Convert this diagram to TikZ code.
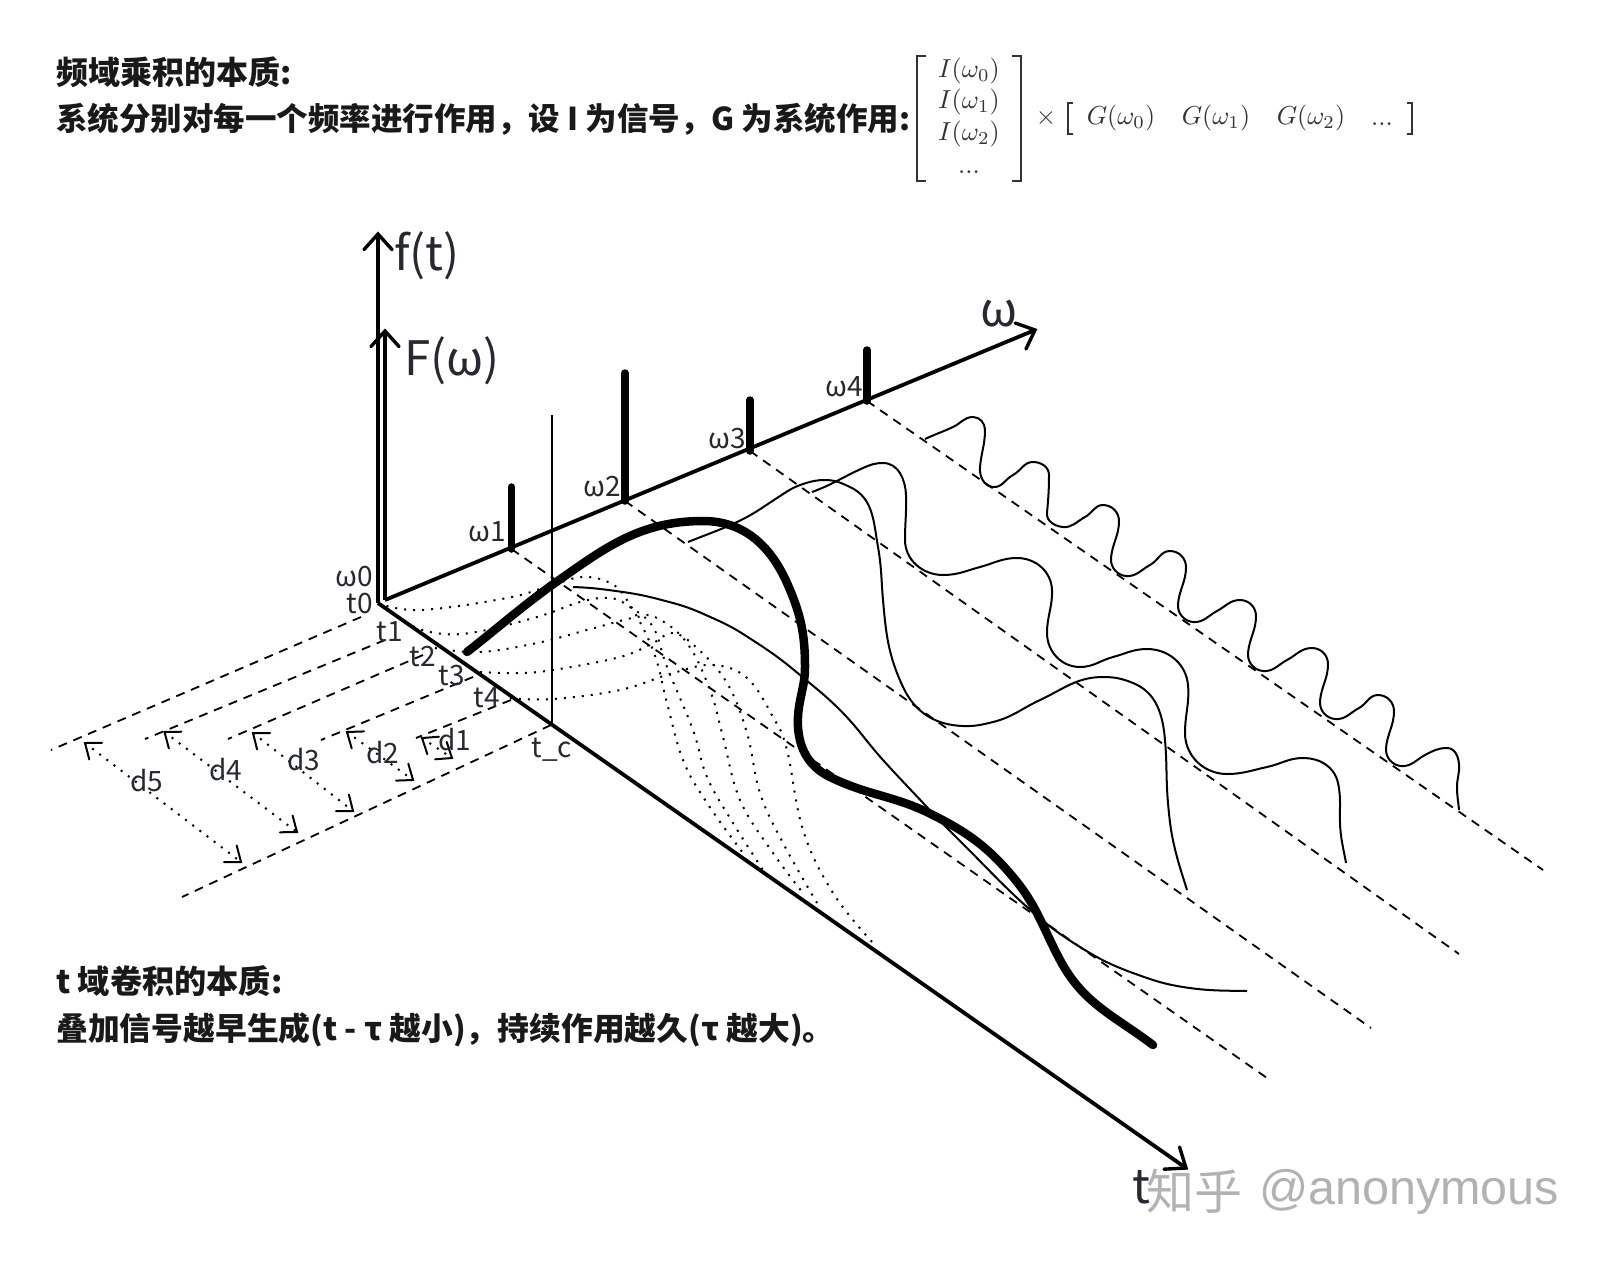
\documentclass[tikz,border=0pt]{standalone}
\usepackage{fontspec}
\setmainfont{Noto Sans CJK SC}
\newfontfamily\wmfont{Liberation Sans}
\usetikzlibrary{calc}
\definecolor{inkc}{HTML}{262A30}
\definecolor{mathc}{HTML}{333333}
\definecolor{wmc}{HTML}{B2B2B2}
\tikzset{
  lbl/.style={inner sep=0pt,text=inkc,font=\fontsize{28}{28}\selectfont},
  biglbl/.style={inner sep=0pt,text=inkc,font=\fontsize{47.5}{48}\selectfont},
  title/.style={inner sep=0pt,anchor=west,text=black!90,font=\fontsize{#1}{32}\selectfont\bfseries},
  mth/.style={inner sep=0pt,text=mathc,scale=2.6},
  axis/.style={line width=3.8pt},
  spike/.style={line width=7.5pt,line cap=round},
  dline/.style={line width=1.8pt,dash pattern=on 9pt off 7pt},
  dotc/.style={line width=2pt,dash pattern=on 2pt off 7pt},
  thin curve/.style={line width=2pt,line join=round},
  bracket/.style={line width=1.8pt,mathc},
  bracketb/.style={line width=1.4pt,mathc},
}
% a curve segment: leaving direction, arriving direction, end point
\newcommand{\sg}[3]{to[out=#1,in=\the\numexpr #2+180\relax] #3}
% one period of the ripple, starting at a crest and ending at the next crest
\newcommand{\wv}[1]{\sg{0}{-90}{++(16,16)} \sg{-90}{-95}{++(-8,37)} \sg{-95}{-5}{++(15,18)} \sg{-5}{28}{++(24,-11)} \sg{28}{0}{#1}}
% open arrow head made of two straight wings
\newcommand{\wings}[5]{\draw[line width=#5,line cap=round,line join=miter] ($#1!#3!#4:#2$) -- #1 -- ($#1!#3!-#4:#2$);}
\newcommand{\dimarr}[2]{%
  \draw[dotc] #1 -- #2;
  \wings{#1}{#2}{17pt}{38}{2pt}
  \wings{#2}{#1}{17pt}{38}{2pt}
}
\begin{document}
\begin{tikzpicture}[x=1pt,y=-1pt]
\useasboundingbox (0,0) rectangle (1598,1262);
% ---- points
\coordinate (O) at (378,603);
\coordinate (Oo) at (385,600);
\coordinate (ftip) at (378,234);
\coordinate (Ftip) at (385,331);
\coordinate (wtip) at (1035,330);
\coordinate (ttip) at (1186,1168);
\coordinate (w1) at (511.5,549); \coordinate (w1t) at (511.5,487);
\coordinate (w2) at (625,501);  \coordinate (w2t) at (625,373);
\coordinate (w3) at (750,451);  \coordinate (w3t) at (750,400);
\coordinate (w4) at (867,401);  \coordinate (w4t) at (867,350);
\coordinate (tc) at (552,723);  \coordinate (tcu) at (552,415);
% ---- dashed parallels
\draw[dline] (w1) -- (1267,1078);
\draw[dline] (w2) -- (1371,1028);
\draw[dline] (w3) -- (1459,954);
\draw[dline] (w4) -- (1543,870);
\draw[dline] (361,617) -- (51,750);
\draw[dline] (385,640) -- (145,739);
\draw[dline] (423,655) -- (228,739);
\draw[dline] (473,677) -- (321,740);
\draw[dline] (511,700) -- (416,738);
\draw[dline] (tc) ++(-1,2) -- (182,897);
% ---- dotted kernels
\draw[dotc] plot[smooth,tension=.65] coordinates {(378,603) (420,610) (507,598) (552,585) (583,577) (610,583) (627,600) (653,650) (667,703) (683,760) (707,803) (743,853)};
\draw[dotc] plot[smooth,tension=.65] coordinates {(405,622) (430,632) (470,633) (537,617) (580,602) (610,598) (630,607) (653,627) (667,667) (693,730) (707,777) (733,823) (763,870)};
\draw[dotc] plot[smooth,tension=.65] coordinates {(435,648) (480,652) (537,643) (587,630) (637,617) (657,618) (687,643) (710,690) (723,737) (740,800) (773,853) (803,893)};
\draw[dotc] plot[smooth,tension=.65] coordinates {(480,672) (517,673) (553,670) (620,657) (653,643) (673,633) (697,648) (727,683) (747,733) (760,793) (783,843) (817,903)};
\draw[dotc] plot[smooth,tension=.65] coordinates {(510,698) (553,699) (620,690) (673,673) (713,665) (747,678) (773,717) (787,750) (803,830) (833,893) (873,943)};
% ---- dimension arrows
\dimarr{(85,743)}{(241,862)}
\dimarr{(164.5,732)}{(297,832)}
\dimarr{(253,733)}{(353,811)}
\dimarr{(347,732)}{(413,780)}
\dimarr{(422,738)}{(452,758)}
% ---- axes
\draw[axis] (O) -- (ftip);
\draw[axis] (Oo) -- (Ftip);
\draw[axis] (Oo) -- (wtip);
\draw[axis] (O) -- (ttip);
\wings{(ftip)}{(O)}{21pt}{42}{3.4pt}
\wings{(Ftip)}{(Oo)}{21pt}{42}{3.4pt}
\wings{(wtip)}{(Oo)}{21pt}{42}{3.4pt}
\wings{(ttip)}{(O)}{22pt}{38}{3.4pt}
% ---- spikes and cursor
\draw[spike] (w1) -- (w1t);
\draw[spike] (w2) -- (w2t);
\draw[spike] (w3) -- (w3t);
\draw[spike] (w4) -- (w4t);
\draw[line width=2pt] (tc) -- (tcu);
% ---- thin spectra
\draw[thin curve] (688,542) \sg{22}{25}{(737,522)} \sg{25}{33}{(777,498)} \sg{33}{18}{(803,484)} \sg{18}{0}{(825,480)} \sg{0}{-25}{(850,487)} \sg{-25}{-80}{(878,547)} \sg{-80}{-85}{(883,600)} \sg{-85}{-65}{(903,687)} \sg{-65}{-2}{(963,726)} \sg{-2}{14}{(993,722)} \sg{14}{25}{(1040,700)} \sg{25}{0}{(1103,677)} \sg{0}{-22}{(1133,683)} \sg{-22}{-85}{(1165,740)} \sg{-85}{-85}{(1168,803)} \sg{-85}{-75}{(1177,857)} \sg{-75}{-73}{(1187,890)};
\draw[thin curve] (812,492) \sg{20}{24}{(863,468)} \sg{24}{0}{(883,463)} \sg{0}{-88}{(906,495)} \sg{-88}{-90}{(905,540)} \sg{-90}{0}{(943,575)} \sg{0}{15}{(980,567)} \sg{15}{0}{(1017,558)} \sg{0}{-88}{(1052,590)} \sg{-88}{-90}{(1047,633)} \sg{-90}{0}{(1080,667)} \sg{0}{15}{(1113,657)} \sg{15}{0}{(1147,649)} \sg{0}{-85}{(1188,685)} \sg{-85}{-90}{(1185,733)} \sg{-90}{0}{(1227,774)} \sg{0}{12}{(1267,767)} \sg{12}{0}{(1303,758)} \sg{0}{-78}{(1338,783)} \sg{-78}{-88}{(1340,823)} \sg{-88}{-80}{(1346,863)};
\draw[thin curve] (925,439) \sg{25}{25}{(953,427)} \sg{25}{0}{(973,417)} \sg{0}{-90}{++(12,13)} \sg{-90}{-95}{++(-5,37)} \sg{-95}{-5}{++(13,20)} \sg{-5}{28}{++(20,-12)} \sg{28}{0}{++(20,-13)} \sg{0}{-90}{++(16,13)} \sg{-90}{-95}{++(-2,38)} \sg{-95}{-5}{++(16,14)} \sg{-5}{28}{++(22,-10)} \sg{28}{0}{++(18,-12)} \wv{++(20,-14)} \wv{++(23,-11)} \wv{++(25,-12)} \wv{++(19,-13)} \wv{++(22,-7)} \sg{0}{-85}{(1459,764)} \sg{-85}{-90}{(1457,787)} \sg{-90}{-85}{(1459,810)};
\draw[thin curve] (573,587) \sg{-2}{-8}{(623,592)} \sg{-8}{-15}{(673,603)} \sg{-15}{-24}{(717,620)} \sg{-24}{-33}{(757,643)} \sg{-33}{-40}{(800,675)} \sg{-40}{-45}{(840,710)} \sg{-45}{-48}{(883,760)} \sg{-48}{-47}{(925,805)} \sg{-47}{-45}{(967,848)} \sg{-45}{-42}{(1027,907)} \sg{-42}{-32}{(1080,947)} \sg{-32}{-20}{(1133,973)} \sg{-20}{-9}{(1183,987)} \sg{-9}{-1}{(1247,991)};
% ---- thick signal
\draw[line width=8.5pt,line cap=round,line join=round] (467,652) \sg{38}{36}{(552,585)} \sg{35}{0}{(703,521)} \sg{0}{-66}{(787,583)} \sg{-66}{-90}{(805,667)} \sg{-90}{-93}{(798,717)} \sg{-93}{-26}{(830,777)} \sg{-26}{-27}{(933,815)} \sg{-27}{-50}{(1013,877)} \sg{-50}{-62}{(1060,960)} \sg{-62}{-37}{(1153,1045)};
% ---- small labels
\node[lbl] (l0) at (354,577) {ω0};
\node[lbl] (lt0) at (360,604) {t0};
\node[lbl] (lt1) at (390,632) {t1};
\node[lbl] (lt2) at (423,657) {t2};
\node[lbl] (lt3) at (452,676) {t3};
\node[lbl] (lt4) at (487,698) {t4};
\node[lbl] (ltc) at (552,750) {t\_c};
\node[lbl] (lw1) at (487,532) {ω1};
\node[lbl] (lw2) at (602,487) {ω2};
\node[lbl] (lw3) at (727,439) {ω3};
\node[lbl] (lw4) at (844,387) {ω4};
\node[lbl] (d1) at (455,740) {d1};
\node[lbl] (d2) at (383,753) {d2};
\node[lbl] (d3) at (304,760) {d3};
\node[lbl] (d4) at (226,770) {d4};
\node[lbl] (d5) at (147,781) {d5};
% ---- big labels
\node[biglbl] (lf) at (427,256) {f(t)};
\node[biglbl] (lF) at (452,361) {F(ω)};
\node[biglbl] (lom) at (999,314) {ω};
\node[biglbl] (lT) at (1141,1187) {t};
% ---- titles
\node[title=32] (t1) at (56,72) {频域乘积的本质:};
\node[title=31.5] (t2) at (56,119) {系统分别对每一个频率进行作用，设 I 为信号，G 为系统作用:};
\node[title=32.2] (t3) at (56,981) {t 域卷积的本质:};
\node[title=31.8] (t4) at (56,1030) {叠加信号越早生成(t - τ 越小)，持续作用越久(τ 越大)。};
% ---- formula
\draw[bracket] (926,56) -- (917,56) -- (917,181) -- (926,181);
\draw[bracket] (1012,56) -- (1021,56) -- (1021,181) -- (1012,181);
\node[mth] (i0) at (969,71) {$I(\omega_0)$};
\node[mth] (i1) at (969,102) {$I(\omega_1)$};
\node[mth] (i2) at (969,134) {$I(\omega_2)$};
\node[mth] (i3) at (969,172) {$...$};
\node[mth] (tm) at (1046,118) {$\times$};
\draw[bracketb] (1073,103) -- (1068,103) -- (1068,134) -- (1073,134);
\draw[bracketb] (1407,103) -- (1412,103) -- (1412,134) -- (1407,134);
\node[mth] (g0) at (1121,118) {$G(\omega_0)$};
\node[mth] (g1) at (1216,118) {$G(\omega_1)$};
\node[mth] (g2) at (1311,118) {$G(\omega_2)$};
\node[mth] (g3) at (1382,124) {$...$};
% ---- watermark
\node[inner sep=0pt,anchor=west,text=wmc,font=\fontsize{48}{48}\selectfont] (wm1) at (1146,1191) {知乎};
\node[inner sep=0pt,anchor=west,text=wmc,font=\wmfont\fontsize{48.5}{49}\selectfont] (wm2) at (1259,1192) {@anonymous};
\end{tikzpicture}
\end{document}
